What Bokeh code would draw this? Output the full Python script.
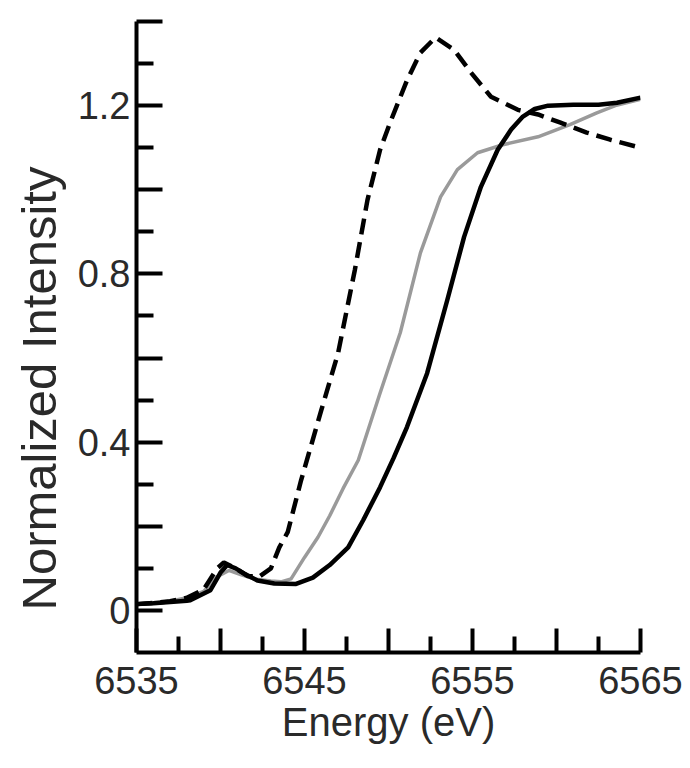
from bokeh.plotting import figure
from bokeh.models import FixedTicker, Range1d, Title
from bokeh.embed import file_html
from bokeh.resources import INLINE

# --- data ---
black_e = [6535, 6536, 6537, 6538, 6538.2, 6539.4, 6540.0, 6540.4, 6540.9, 6541.4, 6542.2, 6543.2,
           6544.5, 6545.5, 6546.5, 6547.6, 6548.5, 6549.5, 6550.3, 6551.1, 6552.3, 6553.5,
           6554.5, 6555.5, 6556.5, 6557.3, 6558.0, 6558.7, 6559.5, 6561.0, 6562.5, 6563.6, 6565]
black_v = [0.015, 0.017, 0.020, 0.023, 0.024, 0.048, 0.090, 0.108, 0.100, 0.088, 0.071, 0.064,
           0.063, 0.078, 0.108, 0.150, 0.215, 0.293, 0.362, 0.436, 0.564, 0.738,
           0.888, 1.007, 1.095, 1.143, 1.174, 1.192, 1.200, 1.202, 1.202, 1.207, 1.219]

gray_e = [6535, 6536, 6537, 6538, 6539, 6539.8, 6540.5, 6541.2, 6542.0, 6543.0, 6543.6, 6544.2,
          6545.0, 6545.8, 6546.5, 6547.3, 6548.2, 6549.5, 6550.7, 6551.9, 6553.1, 6554.1,
          6555.3, 6556.8, 6558.9, 6560.8, 6562.4, 6563.5, 6565]
gray_v = [0.015, 0.018, 0.022, 0.030, 0.045, 0.080, 0.095, 0.085, 0.075, 0.070, 0.068, 0.075,
          0.126, 0.174, 0.225, 0.290, 0.357, 0.517, 0.660, 0.850, 0.983, 1.048,
          1.088, 1.107, 1.126, 1.155, 1.183, 1.200, 1.215]

dash_e = [6535, 6536, 6537, 6538, 6539, 6539.8, 6540.2, 6540.9, 6541.6, 6542.3, 6543.0, 6543.5,
          6544.0, 6544.8, 6546.0, 6547.0, 6548.0, 6548.75, 6549.5, 6550.1, 6551.1, 6551.9,
          6552.8, 6553.9, 6554.9, 6556.1, 6557.7, 6558.9, 6560.2, 6561.8, 6563.2, 6565]
dash_v = [0.015, 0.018, 0.022, 0.030, 0.050, 0.100, 0.114, 0.100, 0.082, 0.080, 0.100, 0.150,
          0.186, 0.310, 0.476, 0.612, 0.810, 0.976, 1.095, 1.160, 1.260, 1.326,
          1.362, 1.333, 1.279, 1.221, 1.190, 1.179, 1.160, 1.136, 1.119, 1.100]

x_ticks = [6535, 6540, 6545, 6550, 6555, 6560, 6565]
x_minor = [6537.5, 6542.5, 6547.5, 6552.5, 6557.5, 6562.5]
x_blank = [6540, 6550, 6560]
y_ticks = [0, 0.2, 0.4, 0.6, 0.8, 1.0, 1.2, 1.4]
y_minor = [0.1, 0.3, 0.5, 0.7, 0.9, 1.1, 1.3]
y_blank = [0.2, 0.6, 1.0, 1.4]

FONT = "Liberation Sans"
TXT = "#2a2a2a"

p = figure(width=690, height=768, output_backend="svg", toolbar_location=None,
           x_range=Range1d(6535, 6565), y_range=Range1d(-0.1, 1.4),
           min_border_left=136, min_border_right=50, min_border_top=21, min_border_bottom=116)
p.outline_line_color = None
p.grid.visible = False
p.background_fill_color = "white"
p.border_fill_color = "white"

p.line(gray_e, gray_v, line_color="#9a9a9a", line_width=3.5, line_join="round")
p.line(dash_e, dash_v, line_color="black", line_width=4.5, line_dash="16 8")
p.line(black_e, black_v, line_color="black", line_width=4.5, line_join="round")

for ax, ticks, minor, blank in ((p.xaxis[0], x_ticks, x_minor, x_blank),
                                (p.yaxis[0], y_ticks, y_minor, y_blank)):
    ax.ticker = FixedTicker(ticks=ticks, minor_ticks=minor)
    ax.major_label_overrides = {b: "" for b in blank}
    ax.axis_line_width = 4
    ax.axis_line_color = "black"
    ax.major_tick_line_width = 4
    ax.minor_tick_line_width = 4
    ax.major_tick_line_color = "black"
    ax.minor_tick_line_color = "black"
    ax.major_tick_out = 0
    ax.minor_tick_out = 0
    ax.major_label_text_font = FONT
    ax.major_label_text_font_size = "38px"
    ax.major_label_text_color = TXT
    ax.axis_label_text_font = FONT
    ax.axis_label_text_font_style = "normal"
    ax.axis_label_text_color = TXT

p.xaxis.major_tick_in = 24
p.xaxis.minor_tick_in = 16
p.yaxis.major_tick_in = 26
p.yaxis.minor_tick_in = 17
p.xaxis.major_label_standoff = 14
p.yaxis.major_label_standoff = 6
p.xaxis.axis_label = "Energy (eV)"
p.xaxis.axis_label_text_font_size = "40px"
p.xaxis.axis_label_standoff = 3

# y-axis title as a side title, starting a little above the frame bottom as in the reference
ytitle = Title(text="Normalized Intensity", align="left", offset=42, standoff=18,
               text_font=FONT, text_font_size="49px", text_font_style="normal",
               text_color=TXT)
p.add_layout(ytitle, "left")

open("out.html", "w").write(file_html(p, INLINE))
